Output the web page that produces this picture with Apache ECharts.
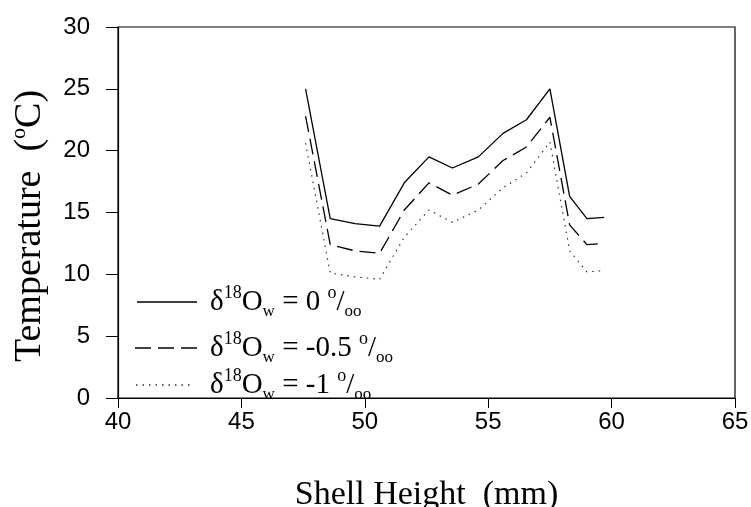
<!DOCTYPE html>
<html>
<head>
<meta charset="utf-8">
<script src="https://cdn.jsdelivr.net/npm/echarts@6/dist/echarts.min.js"></script>
<style>
  html, body { margin: 0; padding: 0; background: #fff; }
  #chart { width: 751px; height: 507px; }
</style>
</head>
<body>
<div id="chart"></div>
<script>
// shell height (mm)
var shellHeight = [47.6, 48.6, 49.6, 50.6, 51.6, 52.6, 53.55, 54.6, 55.6, 56.55, 57.5, 58.3, 59.0, 59.7];
// temperature (°C) for each d18O water value
var temp0 = [25.0, 14.5, 14.1, 13.9, 17.4, 19.5, 18.6, 19.5, 21.4, 22.5, 25.0, 16.3, 14.5, 14.6];
var tempM05 = [22.8, 12.4, 11.9, 11.7, 15.2, 17.4, 16.4, 17.3, 19.2, 20.3, 22.7, 14.0, 12.4, 12.5];
var tempM1 = [20.6, 10.1, 9.8, 9.6, 13.0, 15.2, 14.2, 15.2, 17.0, 18.2, 20.7, 11.9, 10.2, 10.3];
var waterValues = ['0', '-0.5', '-1'];

var DASH = [16, 7];
var DOT = [1.5, 5];

function pairs(ys) {
  return shellHeight.map(function (x, i) {
    return [x, ys[i]]
  })
}

var serif = 'Liberation Serif';
var sans = 'Liberation Sans';

var legendRich = {
  a: { fontFamily: serif, fontSize: 29, fill: '#000', lineHeight: 36, verticalAlign: 'middle' },
  s: { fontFamily: serif, fontSize: 18, fill: '#000', lineHeight: 36, verticalAlign: 'top' },
  b: { fontFamily: serif, fontSize: 17, fill: '#000', lineHeight: 36, verticalAlign: 'bottom' }
};

function legendText(name) {
  return '{a|δ}{s|18}{a|O}{b|w}{a| = ' + name + ' }{s|o}{a|/}{b|oo}'
}

// legend: line sample + label, one row per series
function legendRow(name, y, x1, x2, dash, color) {
  return [{
    type: 'line',
    shape: { x1: x1, y1: y, x2: x2, y2: y },
    style: { stroke: color, lineWidth: 1.3, lineDash: dash }
  }, {
    type: 'text',
    x: 210,
    y: y,
    style: {
      text: legendText(name),
      rich: legendRich,
      verticalAlign: 'middle',
      align: 'left'
    }
  }]
}

var myChart = echarts.init(document.getElementById('chart'));
var option = {
  animation: false,
  grid: {
    left: 118,
    right: 16,
    top: 27,
    bottom: 109,
    outerBoundsMode: 'none',
    containLabel: false,
    show: true,
    borderColor: '#000',
    borderWidth: 1.2
  },
  graphic: [].concat(
    legendRow(waterValues[0], 302, 137, 197, null, '#000'),
    legendRow(waterValues[1], 348, 135, 197, DASH, '#000'),
    legendRow(waterValues[2], 385, 136, 192, DOT, '#333'),
    [{
      type: 'text',
      x: 30,
      y: 226,
      rotation: Math.PI / 2,
      style: {
        text: '{t|Temperature  (}{u|o}{t|C)}',
        rich: {
          t: { fontFamily: serif, fontSize: 38, fill: '#000', lineHeight: 44, verticalAlign: 'middle' },
          u: { fontFamily: serif, fontSize: 22, fill: '#000', lineHeight: 44, verticalAlign: 'top' }
        },
        align: 'center',
        verticalAlign: 'middle'
      }
    }]
  ),
  xAxis: {
    type: 'value',
    min: 40,
    max: 65,
    interval: 5,
    name: 'Shell Height  (mm)',
    nameLocation: 'middle',
    nameGap: 80,
    nameTextStyle: { fontFamily: serif, fontSize: 34, color: '#000' },
    axisLine: { lineStyle: { color: '#000', width: 1.2 } },
    axisTick: { inside: false, length: 10, lineStyle: { color: '#000' } },
    axisLabel: { fontFamily: sans, fontSize: 24, color: '#000', margin: 12 },
    splitLine: { show: false }
  },
  yAxis: {
    type: 'value',
    min: 0,
    max: 30,
    interval: 5,
    axisLine: { show: true, lineStyle: { color: '#000', width: 1.2 } },
    axisTick: { show: true, inside: false, length: 12, lineStyle: { color: '#000' } },
    axisLabel: { fontFamily: sans, fontSize: 24, color: '#000', margin: 28 },
    splitLine: { show: false }
  },
  series: [{
    name: waterValues[0],
    type: 'line',
    symbol: 'none',
    data: pairs(temp0),
    lineStyle: { color: '#000', width: 1.3, type: 'solid' }
  }, {
    name: waterValues[1],
    type: 'line',
    symbol: 'none',
    data: pairs(tempM05),
    lineStyle: { color: '#000', width: 1.3, type: DASH }
  }, {
    name: waterValues[2],
    type: 'line',
    symbol: 'none',
    data: pairs(tempM1),
    lineStyle: { color: '#333', width: 1.2, type: DOT }
  }]
};
myChart.setOption(option);
</script>
</body>
</html>
